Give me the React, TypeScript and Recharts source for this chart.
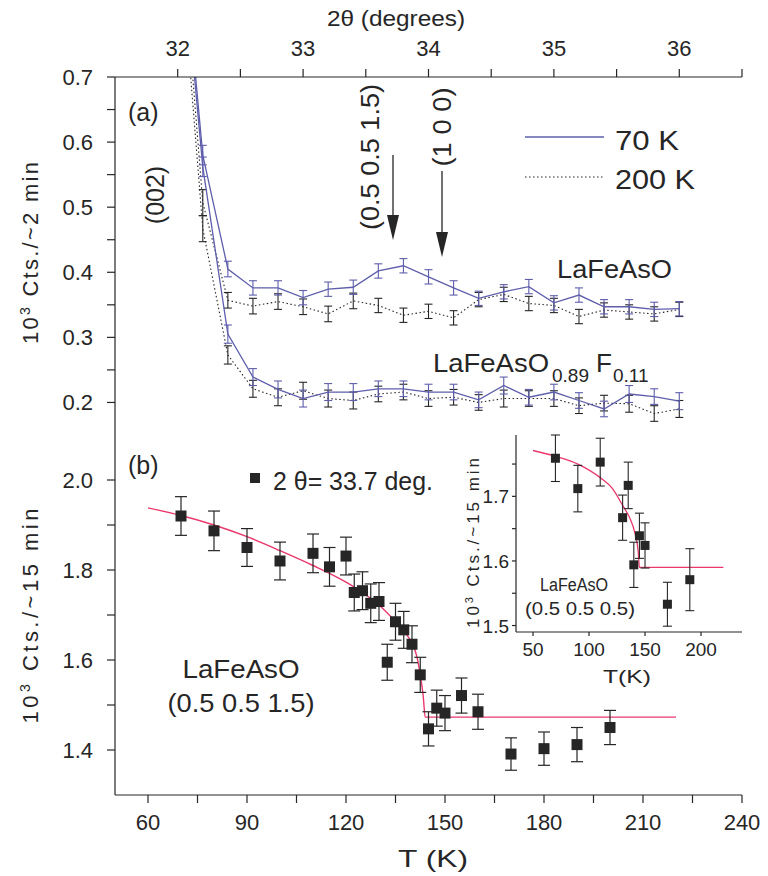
import {
  ComposedChart,
  Line,
  Scatter,
  XAxis,
  YAxis,
  ErrorBar,
  CartesianGrid,
} from 'recharts'

const FONT = '"Liberation Sans", Arial, Helvetica, sans-serif'
const INK = '#262626'
const BLUE = '#5e5eac'
const RED = '#ea386c'
const W = 768
const H = 876

// (a) 2theta scans at 70 K and 200 K
const theta = [32.0, 32.2, 32.4, 32.6, 32.8, 33.0, 33.2, 33.4, 33.6, 33.8, 34.0, 34.2, 34.4, 34.6, 34.8, 35.0, 35.2, 35.4, 35.6, 35.8, 36.0]
const parent70 = [1.0, 0.58, 0.405, 0.376, 0.376, 0.361, 0.374, 0.377, 0.402, 0.41, 0.393, 0.376, 0.36, 0.37, 0.378, 0.353, 0.365, 0.347, 0.347, 0.343, 0.344]
const parent70Err = [null, 0.015, 0.012, 0.011, 0.011, 0.011, 0.011, 0.011, 0.011, 0.011, 0.011, 0.011, 0.011, 0.011, 0.011, 0.011, 0.011, 0.011, 0.011, 0.011, 0.011]
const parent200 = [0.99, 0.507, 0.357, 0.348, 0.355, 0.347, 0.336, 0.356, 0.349, 0.334, 0.34, 0.33, 0.358, 0.366, 0.352, 0.349, 0.332, 0.342, 0.339, 0.336, 0.343]
const parent200Err = [null, 0.02, 0.012, 0.012, 0.012, 0.012, 0.012, 0.012, 0.011, 0.011, 0.011, 0.011, 0.011, 0.011, 0.011, 0.011, 0.011, 0.011, 0.011, 0.011, 0.011]
const doped70 = [0.98, 0.562, 0.305, 0.239, 0.22, 0.206, 0.216, 0.216, 0.221, 0.221, 0.216, 0.216, 0.204, 0.226, 0.208, 0.216, 0.203, 0.19, 0.213, 0.209, 0.202]
const doped70Err = [null, 0.015, 0.014, 0.013, 0.013, 0.013, 0.013, 0.013, 0.012, 0.012, 0.012, 0.012, 0.012, 0.013, 0.012, 0.012, 0.012, 0.012, 0.013, 0.012, 0.013]
const doped200 = [0.95, 0.467, 0.273, 0.221, 0.208, 0.218, 0.206, 0.203, 0.213, 0.216, 0.206, 0.208, 0.2, 0.206, 0.206, 0.206, 0.195, 0.199, 0.198, 0.183, 0.19]
const doped200Err = [null, 0.02, 0.014, 0.013, 0.013, 0.013, 0.013, 0.013, 0.012, 0.012, 0.012, 0.012, 0.012, 0.013, 0.012, 0.012, 0.012, 0.012, 0.013, 0.012, 0.013]

// (b) temperature dependence at 2theta = 33.7 deg
const temps = [70, 80, 90, 100, 110, 115, 120, 122.5, 125, 127.5, 130, 132.5, 135, 137.5, 140, 142.5, 145, 147.5, 150, 155, 160, 170, 180, 190, 200]
const counts = [1.92, 1.887, 1.85, 1.82, 1.837, 1.807, 1.831, 1.75, 1.754, 1.726, 1.73, 1.595, 1.685, 1.667, 1.635, 1.567, 1.447, 1.493, 1.482, 1.521, 1.485, 1.391, 1.403, 1.412, 1.45]
const countsErr = [0.043, 0.044, 0.042, 0.042, 0.043, 0.043, 0.042, 0.041, 0.042, 0.043, 0.042, 0.04, 0.041, 0.041, 0.041, 0.039, 0.038, 0.04, 0.039, 0.039, 0.039, 0.036, 0.037, 0.038, 0.038]
const fitTemps = [60, 70, 80, 90, 100, 110, 120, 125, 130, 135, 138, 140, 141.5, 142.5, 143.4, 144, 160, 190, 220]
const fitCounts = [1.938, 1.921, 1.9, 1.874, 1.843, 1.81, 1.773, 1.75, 1.722, 1.685, 1.66, 1.637, 1.607, 1.567, 1.52, 1.473, 1.473, 1.473, 1.473]

// inset, (0.5 0.5 0.5)
const insetTemps = [70, 90, 110, 130, 135, 140, 145, 150, 170, 190]
const insetCounts = [1.759, 1.712, 1.753, 1.667, 1.717, 1.594, 1.639, 1.624, 1.533, 1.571]
const insetErr = [0.036, 0.036, 0.037, 0.035, 0.036, 0.035, 0.035, 0.035, 0.034, 0.048]
const insetFitTemps = [50, 70, 90, 110, 121, 130, 136, 141, 144, 145, 160, 190, 220]
const insetFitCounts = [1.771, 1.762, 1.75, 1.729, 1.712, 1.686, 1.668, 1.643, 1.613, 1.59, 1.59, 1.59, 1.59]

// ticks
const thetaTicks = [32, 32.5, 33, 33.5, 34, 34.5, 35, 35.5, 36, 36.5]
const thetaLabels = [32, 33, 34, 35, 36]
const scanTicks = [0.2, 0.25, 0.3, 0.35, 0.4, 0.45, 0.5, 0.55, 0.6, 0.65, 0.7]
const scanLabels = [0.2, 0.3, 0.4, 0.5, 0.6, 0.7]
const tempTicks = [60, 75, 90, 105, 120, 135, 150, 165, 180, 195, 210, 225, 240]
const tempLabels = [60, 90, 120, 150, 180, 210, 240]
const countTicks = [1.4, 1.5, 1.6, 1.7, 1.8, 1.9, 2.0]
const countLabels = [1.4, 1.6, 1.8, 2.0]
const insetTempTicks = [50, 100, 150, 200]
const insetCountTicks = [1.5, 1.55, 1.6, 1.65, 1.7, 1.75]
const insetCountLabels = [1.5, 1.6, 1.7]

const scanRows = theta.map((t, i) => ({
  theta: t,
  p70: parent70[i], p70e: parent70Err[i],
  p200: parent200[i], p200e: parent200Err[i],
  d70: doped70[i], d70e: doped70Err[i],
  d200: doped200[i], d200e: doped200Err[i],
}))
const tempRows = temps.map((t, i) => ({ T: t, v: counts[i], e: countsErr[i] }))
const fitRows = fitTemps.map((t, i) => ({ T: t, v: fitCounts[i] }))
const insetRows = insetTemps.map((t, i) => ({ T: t, v: insetCounts[i], e: insetErr[i] }))
const insetFitRows = insetFitTemps.map((t, i) => ({ T: t, v: insetFitCounts[i] }))

const isIn = (list: number[], v: number) => list.some((m) => Math.abs(m - v) < 1e-6)

const tickText = (labels: number[], fmt: (v: number) => string, size: number, anchor: string, dy: number) =>
  (p: any) => {
    const v = p.payload.value
    if (!isIn(labels, v)) return <g />
    return (
      <text x={p.x} y={p.y + dy} textAnchor={anchor} fontSize={size} fontFamily={FONT} fill={INK}>
        {fmt(v)}
      </text>
    )
  }

const square = (size: number) => (p: any) => (
  <rect x={p.cx - size / 2} y={p.cy - size / 2} width={size} height={size} fill={INK} />
)

const axisStyle = { stroke: INK, strokeWidth: 1.2 }

const Layer = ({ children }: { children: any }) => (
  <div style={{ position: 'absolute', left: 0, top: 0 }}>{children}</div>
)

const Arrow = ({ x, y1, y2 }: { x: number, y1: number, y2: number }) => (
  <g>
    <line x1={x} y1={y1} x2={x} y2={y2 - 20} stroke={INK} strokeWidth={1.3} />
    <polygon points={`${x - 6},${y2 - 25} ${x + 6},${y2 - 25} ${x},${y2}`} fill={INK} />
  </g>
)

const Annotations = () => (
  <svg width={W} height={H} style={{ position: 'absolute', left: 0, top: 0, pointerEvents: 'none' }} fontFamily={FONT} fill={INK}>
    <text x={396} y={26} textAnchor='middle' fontSize={22} textLength={138} lengthAdjust='spacingAndGlyphs'>2θ (degrees)</text>
    <text x={433} y={867} textAnchor='middle' fontSize={24} textLength={70} lengthAdjust='spacingAndGlyphs'>T  (K)</text>

    <text transform='translate(38,253) rotate(-90)' textAnchor='middle' fontSize={22} textLength={182}>
      10<tspan fontSize={14} dy={-8}>3</tspan><tspan dy={8}> Cts./~2 min</tspan>
    </text>
    <text transform='translate(38,616) rotate(-90)' textAnchor='middle' fontSize={22} textLength={215}>
      10<tspan fontSize={14} dy={-8}>3</tspan><tspan dy={8}> Cts./~15 min</tspan>
    </text>

    {/* panel (a) */}
    <text x={128} y={121} fontSize={25}>(a)</text>
    <text transform='translate(164,195) rotate(-90)' textAnchor='middle' fontSize={25}>(002)</text>
    <text transform='translate(379,157) rotate(-90)' textAnchor='middle' fontSize={25} textLength={146} lengthAdjust='spacingAndGlyphs'>(0.5 0.5 1.5)</text>
    <text transform='translate(451,127) rotate(-90)' textAnchor='middle' fontSize={25} textLength={79} lengthAdjust='spacingAndGlyphs'>(1 0 0)</text>
    <Arrow x={393} y1={155} y2={240} />
    <Arrow x={442} y1={171} y2={257} />

    <line x1={525} y1={137} x2={604} y2={137} stroke={BLUE} strokeWidth={1.3} />
    <line x1={525} y1={177} x2={604} y2={177} stroke={INK} strokeWidth={1.2} strokeDasharray='1.5 2.5' />
    <text x={615} y={150} fontSize={27} textLength={64} lengthAdjust='spacingAndGlyphs'>70 K</text>
    <text x={615} y={189} fontSize={27} textLength={80} lengthAdjust='spacingAndGlyphs'>200 K</text>

    <text x={557} y={278} fontSize={26} textLength={115} lengthAdjust='spacingAndGlyphs'>LaFeAsO</text>
    <text x={433} y={372} fontSize={26} textLength={116} lengthAdjust='spacingAndGlyphs'>LaFeAsO</text>
    <text x={552} y={382} fontSize={19}>0.89</text>
    <text x={596} y={372} fontSize={26}>F</text>
    <text x={613} y={382} fontSize={19}>0.11</text>

    {/* panel (b) */}
    <text x={128} y={474} fontSize={25}>(b)</text>
    <rect x={250} y={473} width={10} height={10} fill={INK} />
    <text x={273} y={490} fontSize={25} textLength={160} lengthAdjust='spacingAndGlyphs'>2 θ= 33.7 deg.</text>
    <text x={241} y={678} textAnchor='middle' fontSize={26} textLength={117} lengthAdjust='spacingAndGlyphs'>LaFeAsO</text>
    <text x={241} y={712} textAnchor='middle' fontSize={26} textLength={147} lengthAdjust='spacingAndGlyphs'>(0.5 0.5 1.5)</text>

    {/* inset */}
    <text transform='translate(479,543) rotate(-90)' textAnchor='middle' fontSize={17} textLength={170}>
      10<tspan fontSize={11} dy={-6}>3</tspan><tspan dy={6}> Cts./~15 min</tspan>
    </text>
    <text x={574} y={591} textAnchor='middle' fontSize={18} textLength={68} lengthAdjust='spacingAndGlyphs'>LaFeAsO</text>
    <text x={580} y={615} textAnchor='middle' fontSize={19} textLength={110} lengthAdjust='spacingAndGlyphs'>(0.5 0.5 0.5)</text>
    <text x={627} y={683} textAnchor='middle' fontSize={19} textLength={48} lengthAdjust='spacingAndGlyphs'>T(K)</text>
  </svg>
)

const App = () => (
  <div style={{ position: 'absolute', left: 0, top: 0, width: W, height: H, background: '#fff' }}>
    {/* panel (a) */}
    <Layer>
      <ComposedChart width={W} height={H} data={scanRows} margin={{ top: 37, right: 26, bottom: 441, left: 55 }}>
        <XAxis xAxisId='top' orientation='top' type='number' dataKey='theta' domain={[31.5, 36.5]}
          ticks={thetaTicks} interval={0} height={40} tickSize={8} tickMargin={13}
          axisLine={axisStyle} tickLine={axisStyle}
          tick={tickText(thetaLabels, (v) => String(v), 22, 'middle', 0)} />
        <XAxis xAxisId='bot' orientation='bottom' type='number' dataKey='theta' domain={[31.5, 36.5]}
          height={0} tick={false} tickLine={false} axisLine={axisStyle} />
        <YAxis yAxisId='left' type='number' domain={[0.15, 0.7]} allowDataOverflow
          ticks={scanTicks} interval={0} width={60} tickSize={8} tickMargin={14}
          axisLine={axisStyle} tickLine={axisStyle}
          tick={tickText(scanLabels, (v) => v.toFixed(1), 22, 'end', 8)} />
        <YAxis yAxisId='right' orientation='right' type='number' domain={[0.15, 0.7]} allowDataOverflow
          width={0} tick={false} tickLine={false} axisLine={axisStyle} />
        <Line xAxisId='top' yAxisId='left' dataKey='d200' stroke={INK} strokeWidth={1.1} strokeDasharray='1.5 2.5' dot={false} isAnimationActive={false}>
          <ErrorBar dataKey='d200e' width={4} stroke={INK} strokeWidth={1.1} isAnimationActive={false} />
        </Line>
        <Line xAxisId='top' yAxisId='left' dataKey='p200' stroke={INK} strokeWidth={1.1} strokeDasharray='1.5 2.5' dot={false} isAnimationActive={false}>
          <ErrorBar dataKey='p200e' width={4} stroke={INK} strokeWidth={1.1} isAnimationActive={false} />
        </Line>
        <Line xAxisId='top' yAxisId='left' dataKey='d70' stroke={BLUE} strokeWidth={1.3} dot={false} isAnimationActive={false}>
          <ErrorBar dataKey='d70e' width={4} stroke={BLUE} strokeWidth={1.1} isAnimationActive={false} />
        </Line>
        <Line xAxisId='top' yAxisId='left' dataKey='p70' stroke={BLUE} strokeWidth={1.3} dot={false} isAnimationActive={false}>
          <ErrorBar dataKey='p70e' width={4} stroke={BLUE} strokeWidth={1.1} isAnimationActive={false} />
        </Line>
      </ComposedChart>
    </Layer>

    {/* panel (b) */}
    <Layer>
      <ComposedChart width={W} height={H} margin={{ top: 435, right: 26, bottom: 41, left: 55 }}>
        <XAxis type='number' dataKey='T' domain={[50, 240]} ticks={tempTicks} interval={0}
          height={40} tickSize={8} tickMargin={8} axisLine={axisStyle} tickLine={axisStyle}
          tick={tickText(tempLabels, (v) => String(v), 22, 'middle', 19)} />
        <YAxis yAxisId='left' type='number' domain={[1.3, 2.1]} ticks={countTicks} interval={0}
          width={60} tickSize={8} tickMargin={14} axisLine={axisStyle} tickLine={axisStyle}
          tick={tickText(countLabels, (v) => v.toFixed(1), 22, 'end', 8)} />
        <YAxis yAxisId='right' orientation='right' type='number' domain={[1.3, 2.1]}
          width={0} tick={false} tickLine={false} axisLine={axisStyle} />
        <Line yAxisId='left' data={fitRows} dataKey='v' type='monotone' stroke={RED} strokeWidth={1.4} dot={false} isAnimationActive={false} />
        <Scatter yAxisId='left' data={tempRows} dataKey='v' shape={square(11)} isAnimationActive={false}>
          <ErrorBar dataKey='e' direction='y' width={6} stroke={INK} strokeWidth={1.2} isAnimationActive={false} />
        </Scatter>
      </ComposedChart>
    </Layer>

    {/* inset */}
    <Layer>
      <ComposedChart width={W} height={H} margin={{ top: 435, right: 26, bottom: 214, left: 476 }}>
        <CartesianGrid fill='#fff' horizontal={false} vertical={false} />
        <XAxis type='number' dataKey='T' domain={[34.8, 236.6]} ticks={insetTempTicks} interval={0}
          height={30} tickSize={4} tickMargin={3} axisLine={axisStyle} tickLine={axisStyle}
          tick={tickText(insetTempTicks, (v) => String(v), 19, 'middle', 17)} />
        <YAxis type='number' domain={[1.49, 1.786]} ticks={insetCountTicks} interval={0}
          width={40} tickSize={4} tickMargin={3} axisLine={axisStyle} tickLine={axisStyle}
          tick={tickText(insetCountLabels, (v) => v.toFixed(1), 19, 'end', 7)} />
        <Line data={insetFitRows} dataKey='v' type='monotone' stroke={RED} strokeWidth={1.3} dot={false} isAnimationActive={false} />
        <Scatter data={insetRows} dataKey='v' shape={square(9)} isAnimationActive={false}>
          <ErrorBar dataKey='e' direction='y' width={4.5} stroke={INK} strokeWidth={1.1} isAnimationActive={false} />
        </Scatter>
      </ComposedChart>
    </Layer>

    <Annotations />
  </div>
)

export default App
